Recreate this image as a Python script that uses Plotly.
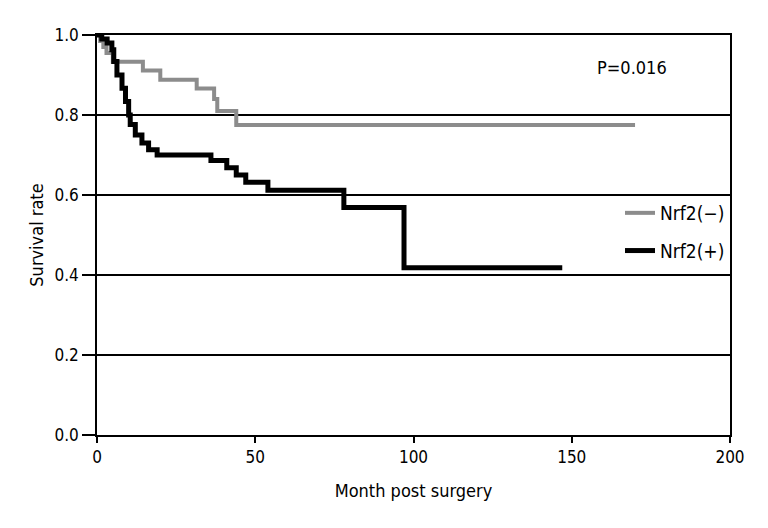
import plotly.graph_objects as go

# Nrf2(-) Kaplan-Meier steps
neg_time = [0, 1, 2, 3, 5, 14.5, 20, 31.5, 37, 38, 44, 170]
neg_surv = [1.0, 0.985, 0.97, 0.955, 0.933, 0.911, 0.888, 0.866, 0.84, 0.81, 0.775, 0.775]

# Nrf2(+) Kaplan-Meier steps
pos_time = [0, 1.5, 3.2, 4.7, 5.3, 6.3, 7.9, 9, 10, 10.5, 12.1, 14.2, 16.3, 19,
            36, 41, 44, 47, 54, 78, 97, 147]
pos_surv = [1.0, 0.99, 0.98, 0.963, 0.934, 0.90, 0.867, 0.834, 0.80, 0.776, 0.75, 0.73, 0.713, 0.70,
            0.686, 0.668, 0.65, 0.632, 0.612, 0.569, 0.418, 0.418]

x_ticks = [0, 50, 100, 150, 200]
y_ticks = [0.0, 0.2, 0.4, 0.6, 0.8, 1.0]
y_tick_labels = ["0.0", "0.2", "0.4", "0.6", "0.8", "1.0"]

FONT = "DejaVu Sans Condensed, Liberation Sans Narrow, Arial Narrow, sans-serif"

fig = go.Figure()
fig.add_trace(go.Scatter(
    x=neg_time, y=neg_surv, mode="lines", line_shape="hv",
    line=dict(color="#8c8c8c", width=4), name="Nrf2(\u2212)", legendgroup="a"))
fig.add_trace(go.Scatter(
    x=pos_time, y=pos_surv, mode="lines", line_shape="hv",
    line=dict(color="#000000", width=5), name="Nrf2(+)", legendgroup="b"))

fig.add_annotation(x=169, y=0.92, xref="x", yref="y", text="P=0.016",
                   showarrow=False, font=dict(family=FONT, size=18, color="black"))

# the page body adds an 8px offset, so margins are shifted by 8px
fig.update_layout(
    width=768, height=528,
    margin=dict(l=89, r=46, t=27, b=101),
    paper_bgcolor="white", plot_bgcolor="white",
    font=dict(family=FONT, size=17, color="black"),
    legend=dict(x=1.0, xanchor="right", y=0.5075, yanchor="middle",
                font=dict(family=FONT, size=19), bgcolor="rgba(0,0,0,0)",
                tracegroupgap=10, itemwidth=30),
    xaxis=dict(range=[0, 200], tickvals=x_ticks, showgrid=False, zeroline=False,
               showline=True, linecolor="black", linewidth=1.5, mirror=True,
               ticks="outside", ticklen=6, tickcolor="black", tickwidth=1.5,
               automargin=False,
               title=dict(text="Month post surgery", font=dict(size=18), standoff=18)),
    yaxis=dict(range=[0, 1], tickvals=y_ticks, ticktext=y_tick_labels,
               showgrid=True, gridcolor="black", gridwidth=1.5, zeroline=False,
               showline=True, linecolor="black", linewidth=1.5, mirror=True,
               ticks="outside", ticklen=13, tickcolor="black", tickwidth=1.5,
               automargin=False,
               title=dict(text="Survival rate", font=dict(size=18), standoff=6)),
    showlegend=True,
)

fig.write_html("out.html")
